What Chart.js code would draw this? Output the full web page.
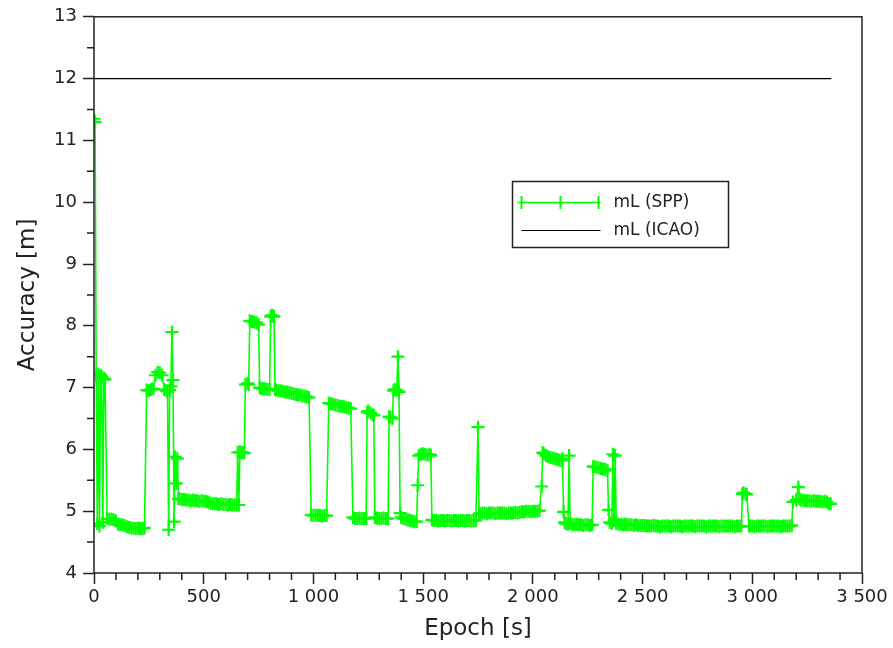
<!DOCTYPE html>
<html>
<head>
<meta charset="utf-8">
<script src="https://cdn.jsdelivr.net/npm/chart.js@4.4.0/dist/chart.umd.min.js"></script>
<style>
html, body { margin: 0; padding: 0; background: #fff; }
#grafica { width: 893px; height: 648px; }
</style>
</head>
<body>
<div id="grafica"><canvas id="myChart" width="893" height="648"></canvas></div>
<script>
// epochs [s] of the SPP samples
var epochSpp = [
	0, 5, 10, 15, 20, 25, 30, 35, 40, 45, 50,
	60, 70, 80, 90, 100, 110, 120, 130, 140, 150, 160, 170, 180, 190, 200, 210, 220, 230,
	240, 250, 260, 270, 280, 290, 300, 310, 320, 330, 335, 340, 345, 350, 355, 360, 365, 370, 375, 380, 385,
	390, 400, 410, 420, 430, 440, 450, 460, 470, 480, 490, 500, 510, 520,
	530, 540, 550, 560, 570, 580, 590, 600, 610, 620, 630, 640, 650,
	655, 660, 665, 670, 680, 685,
	690, 700, 705, 710, 720, 730, 740, 750, 755, 760, 770, 780, 790, 800, 805, 810, 815, 820, 825,
	830, 840, 850, 860, 870, 880, 890, 900, 910, 920, 930, 940, 950, 960, 970, 980,
	990, 1000, 1010, 1020, 1030, 1040, 1050, 1060,
	1070, 1080, 1090, 1100, 1110, 1120, 1130, 1140, 1150, 1160, 1170,
	1180, 1190, 1200, 1210, 1220, 1230, 1240,
	1245, 1250, 1260, 1270, 1275,
	1280, 1290, 1300, 1310, 1320, 1330, 1340,
	1345, 1350, 1360, 1365, 1370, 1380, 1385, 1390, 1395,
	1400, 1410, 1420, 1430, 1440, 1450, 1460, 1470,
	1475, 1480, 1490, 1500, 1510, 1520, 1530, 1535,
	1540, 1550, 1560, 1570, 1580, 1590, 1600, 1610, 1620, 1630, 1640, 1650, 1660, 1670, 1680, 1690, 1700, 1710, 1720, 1730, 1740,
	1750, 1755,
	1760, 1770, 1780, 1790, 1800, 1810, 1820, 1830, 1840, 1850, 1860, 1870, 1880, 1890, 1900, 1910, 1920, 1930, 1940,
	1950, 1960, 1970, 1980, 1990, 2000, 2010, 2020, 2030,
	2040, 2045, 2050, 2060, 2070, 2080, 2090, 2100, 2110, 2120, 2130, 2135,
	2140, 2145, 2150, 2160, 2165, 2170, 2180, 2190, 2200, 2210, 2220, 2230, 2240, 2250, 2260, 2270,
	2275, 2280, 2290, 2300, 2310, 2320, 2330, 2340,
	2345, 2350, 2360, 2365, 2370, 2375, 2380, 2390, 2400, 2410, 2420, 2430, 2440, 2450, 2460, 2470, 2480, 2490, 2500,
	2510, 2520, 2530, 2540, 2550, 2560, 2570, 2580, 2590, 2600,
	2610, 2620, 2630, 2640, 2650, 2660, 2670, 2680, 2690, 2700,
	2710, 2720, 2730, 2740, 2750, 2760, 2770, 2780, 2790, 2800,
	2810, 2820, 2830, 2840, 2850, 2860, 2870, 2880, 2890, 2900,
	2910, 2920, 2930, 2940, 2950,
	2955, 2960, 2970, 2975, 2985,
	2990, 3000, 3010, 3020, 3030, 3040, 3050, 3060, 3070, 3080,
	3090, 3100, 3110, 3120, 3130, 3140, 3150, 3160, 3170, 3180,
	3185, 3200, 3210, 3215, 3220, 3230, 3240, 3250, 3260, 3270, 3280, 3290, 3300, 3310, 3320, 3330, 3340, 3350, 3357
];

// mL (SPP) accuracy [m], same order as epochSpp
var accSpp = [
	11.35, 11.3, 7.2, 4.8, 7.22, 4.76, 7.2, 7.18, 4.82, 7.15, 7.13,
	4.88, 4.87, 4.87, 4.86, 4.84, 4.79, 4.78, 4.78, 4.77, 4.75, 4.74, 4.73, 4.73, 4.72, 4.73, 4.72, 4.72, 4.73,
	6.96, 6.95, 6.97, 6.98, 7.2, 7.25, 7.24, 7.2, 6.97, 6.95, 6.94, 4.7, 6.96, 7.02, 7.9, 7.12, 4.83, 5.88, 5.45, 5.85, 5.2,
	5.2, 5.19, 5.19, 5.18, 5.18, 5.17, 5.18, 5.17, 5.17, 5.16, 5.17, 5.16, 5.16, 5.15,
	5.13, 5.12, 5.12, 5.12, 5.11, 5.12, 5.11, 5.11, 5.1, 5.11, 5.1, 5.1, 5.1,
	5.95, 5.1, 5.96, 5.95, 5.95, 5.94,
	7.05, 7.07, 7.05, 8.08, 8.07, 8.06, 8.05, 8.02, 7.0, 6.99, 6.98, 6.98, 6.97, 6.97, 8.15, 8.17, 8.16, 8.15, 6.97,
	6.96, 6.95, 6.95, 6.94, 6.93, 6.93, 6.92, 6.91, 6.9, 6.89, 6.88, 6.88, 6.87, 6.86, 6.85, 6.84,
	4.94, 4.93, 4.94, 4.93, 4.93, 4.92, 4.93, 4.93,
	6.75, 6.74, 6.73, 6.72, 6.71, 6.7, 6.7, 6.69, 6.68, 6.67, 6.66,
	4.9, 4.88, 4.88, 4.89, 4.88, 4.88, 4.88,
	6.6, 6.62, 6.59, 6.56, 6.55,
	4.9, 4.89, 4.88, 4.88, 4.89, 4.88, 4.88,
	6.53, 6.52, 6.5, 6.95, 6.97, 6.96, 7.5, 6.93, 4.97,
	4.9, 4.88, 4.87, 4.86, 4.85, 4.84, 4.83, 4.83,
	5.42, 5.9, 5.92, 5.93, 5.92, 5.91, 5.92, 5.9,
	4.86, 4.85, 4.85, 4.84, 4.85, 4.85, 4.84, 4.85, 4.85, 4.84, 4.85, 4.85, 4.84, 4.85, 4.85, 4.84, 4.85, 4.85, 4.84, 4.85, 4.85,
	6.36, 4.96,
	4.96, 4.97, 4.97, 4.96, 4.97, 4.97, 4.97, 4.96, 4.97, 4.97, 4.97, 4.97, 4.96, 4.97, 4.97, 4.97, 4.98, 4.97, 4.98,
	4.99, 4.99, 5.0, 5.0, 4.99, 5.0, 5.0, 5.0, 5.01,
	5.4, 5.95, 5.93, 5.9, 5.88, 5.87, 5.86, 5.85, 5.84, 5.83, 5.82, 5.85,
	4.99, 4.82, 4.8, 4.79, 5.9, 4.8, 4.78, 4.78, 4.79, 4.78, 4.78, 4.77, 4.78, 4.78, 4.77, 4.78,
	5.72, 5.72, 5.71, 5.7, 5.69, 5.68, 5.68, 5.66,
	5.02, 4.82, 4.8, 5.92, 4.85, 5.9, 4.8, 4.79, 4.79, 4.78, 4.79, 4.78, 4.78, 4.78, 4.77, 4.78, 4.77, 4.77, 4.77,
	4.77, 4.76, 4.76, 4.76, 4.77, 4.76, 4.76, 4.75, 4.76, 4.76,
	4.76, 4.76, 4.75, 4.76, 4.76, 4.76, 4.76, 4.75, 4.76, 4.76,
	4.76, 4.76, 4.76, 4.75, 4.76, 4.76, 4.76, 4.76, 4.75, 4.76,
	4.76, 4.76, 4.76, 4.76, 4.75, 4.76, 4.76, 4.76, 4.76, 4.76,
	4.76, 4.75, 4.76, 4.76, 4.76,
	5.28, 5.3, 5.28, 5.27, 4.76,
	4.76, 4.76, 4.75, 4.76, 4.76, 4.76, 4.76, 4.76, 4.75, 4.76,
	4.76, 4.76, 4.76, 4.76, 4.75, 4.76, 4.76, 4.76, 4.76, 4.77,
	5.15, 5.18, 5.39, 5.2, 5.18, 5.18, 5.17, 5.17, 5.17, 5.16, 5.17, 5.16, 5.16, 5.16, 5.15, 5.16, 5.15, 5.12, 5.12
];

// mL (ICAO) limit
var epochIcao = [0, 3360];
var accIcao = [12, 12];

// axis ranges and ticks
var xMin = 0, xMax = 3500, xStep = 500, xMinorStep = 100;
var yMin = 4, yMax = 13, yStep = 1, yMinorStep = 0.5;

var labelSpp = 'mL (SPP)';
var labelIcao = 'mL (ICAO)';

if (epochSpp.length != accSpp.length) console.log('length mismatch', epochSpp.length, accSpp.length);

var puntosSpp = epochSpp.map(function (e, i) { return { x: e, y: accSpp[i] }; });
var puntosIcao = epochIcao.map(function (e, i) { return { x: e, y: accIcao[i] }; });

var fuente = 'DejaVu Sans';
var colorTexto = '#222';
var colorEje = '#222';

function miles(v) {
	return String(v).replace(/\B(?=(\d{3})+(?!\d))/g, ' ');
}

// minor ticks + frame
var marco = {
	id: 'marco',
	afterDraw: function (chart) {
		var ctx = chart.ctx, a = chart.chartArea;
		var xs = chart.scales.x, ys = chart.scales.y;
		ctx.save();
		ctx.strokeStyle = colorEje;
		ctx.lineWidth = 1.5;
		ctx.beginPath();
		for (var v = xMin + xMinorStep; v < xMax; v += xMinorStep) {
			if (v % xStep === 0) continue;
			var px = xs.getPixelForValue(v);
			ctx.moveTo(px, a.bottom);
			ctx.lineTo(px, a.bottom + 7);
		}
		for (var w = yMin + yMinorStep; w < yMax; w += yStep) {
			var py = ys.getPixelForValue(w);
			ctx.moveTo(a.left - 7, py);
			ctx.lineTo(a.left, py);
		}
		ctx.stroke();
		ctx.strokeRect(a.left, a.top, a.right - a.left, a.bottom - a.top);
		ctx.restore();
	}
};

// legend box inside the plot
var leyenda = {
	id: 'leyenda',
	afterDraw: function (chart) {
		var ctx = chart.ctx;
		var bx = 512.5, by = 181.5, bw = 216, bh = 66;
		ctx.save();
		ctx.fillStyle = '#fff';
		ctx.fillRect(bx, by, bw, bh);
		ctx.strokeStyle = colorEje;
		ctx.lineWidth = 1.5;
		ctx.strokeRect(bx, by, bw, bh);

		var y1 = by + 21, y2 = by + 49;
		ctx.strokeStyle = '#00ff00';
		ctx.lineWidth = 1.5;
		ctx.beginPath();
		ctx.moveTo(bx + 5, y1);
		ctx.lineTo(bx + 88, y1);
		ctx.stroke();
		ctx.lineWidth = 2;
		ctx.beginPath();
		[bx + 9, bx + 48, bx + 86].forEach(function (cx) {
			ctx.moveTo(cx, y1 - 6.5);
			ctx.lineTo(cx, y1 + 6.5);
		});
		ctx.stroke();

		ctx.strokeStyle = '#000';
		ctx.lineWidth = 1.2;
		ctx.beginPath();
		ctx.moveTo(bx + 9, y2);
		ctx.lineTo(bx + 88, y2);
		ctx.stroke();

		ctx.fillStyle = colorTexto;
		ctx.font = '17px "' + fuente + '"';
		ctx.textBaseline = 'middle';
		ctx.textAlign = 'left';
		ctx.fillText(labelSpp, bx + 101, y1);
		ctx.fillText(labelIcao, bx + 101, y2);
		ctx.restore();
	}
};

var myChart = document.getElementById('myChart');

var grafica = new Chart(myChart, {
	type: 'line',
	data: {
		datasets: [
			//SPP
			{
				label: labelSpp,
				data: puntosSpp,
				borderColor: '#00ff00',
				borderWidth: 1.6,
				pointStyle: 'cross',
				pointRadius: 6.5,
				pointBorderColor: '#00ff00',
				pointBorderWidth: 2.2,
				pointBackgroundColor: '#00ff00',
				tension: 0,
				fill: false
			},
			//ICAO
			{
				label: labelIcao,
				data: puntosIcao,
				borderColor: '#000',
				borderWidth: 1.2,
				pointRadius: 0,
				tension: 0,
				fill: false
			}
		]
	},
	options: {
		responsive: false,
		animation: false,
		devicePixelRatio: 1,
		events: [],
		layout: { padding: { left: 0, right: 31, top: 16, bottom: 0 } },
		plugins: {
			legend: { display: false },
			tooltip: { enabled: false }
		},
		scales: {
			x: {
				type: 'linear',
				min: xMin,
				max: xMax,
				afterFit: function (s) { s.height = 75; },
				border: { display: false },
				grid: { drawOnChartArea: false, tickLength: 11, tickWidth: 1.5, tickColor: colorEje },
				ticks: {
					stepSize: xStep,
					autoSkip: false,
					maxRotation: 0,
					padding: 3,
					color: colorTexto,
					font: { family: fuente, size: 18 },
					callback: function (v) { return miles(v); }
				},
				title: {
					display: true,
					text: 'Epoch [s]',
					color: colorTexto,
					font: { family: fuente, size: 23 },
					padding: { top: 0, bottom: 5 }
				}
			},
			y: {
				type: 'linear',
				min: yMin,
				max: yMax,
				afterFit: function (s) { s.width = 94; },
				border: { display: false },
				grid: { drawOnChartArea: false, tickLength: 11, tickWidth: 1.5, tickColor: colorEje },
				ticks: {
					stepSize: yStep,
					padding: 6,
					color: colorTexto,
					font: { family: fuente, size: 18 }
				},
				title: {
					display: true,
					text: 'Accuracy [m]',
					color: colorTexto,
					font: { family: fuente, size: 23 },
					padding: { top: 14, bottom: 0 }
				}
			}
		}
	},
	plugins: [marco, leyenda]
});
//fin de la grafica
</script>
</body>
</html>
